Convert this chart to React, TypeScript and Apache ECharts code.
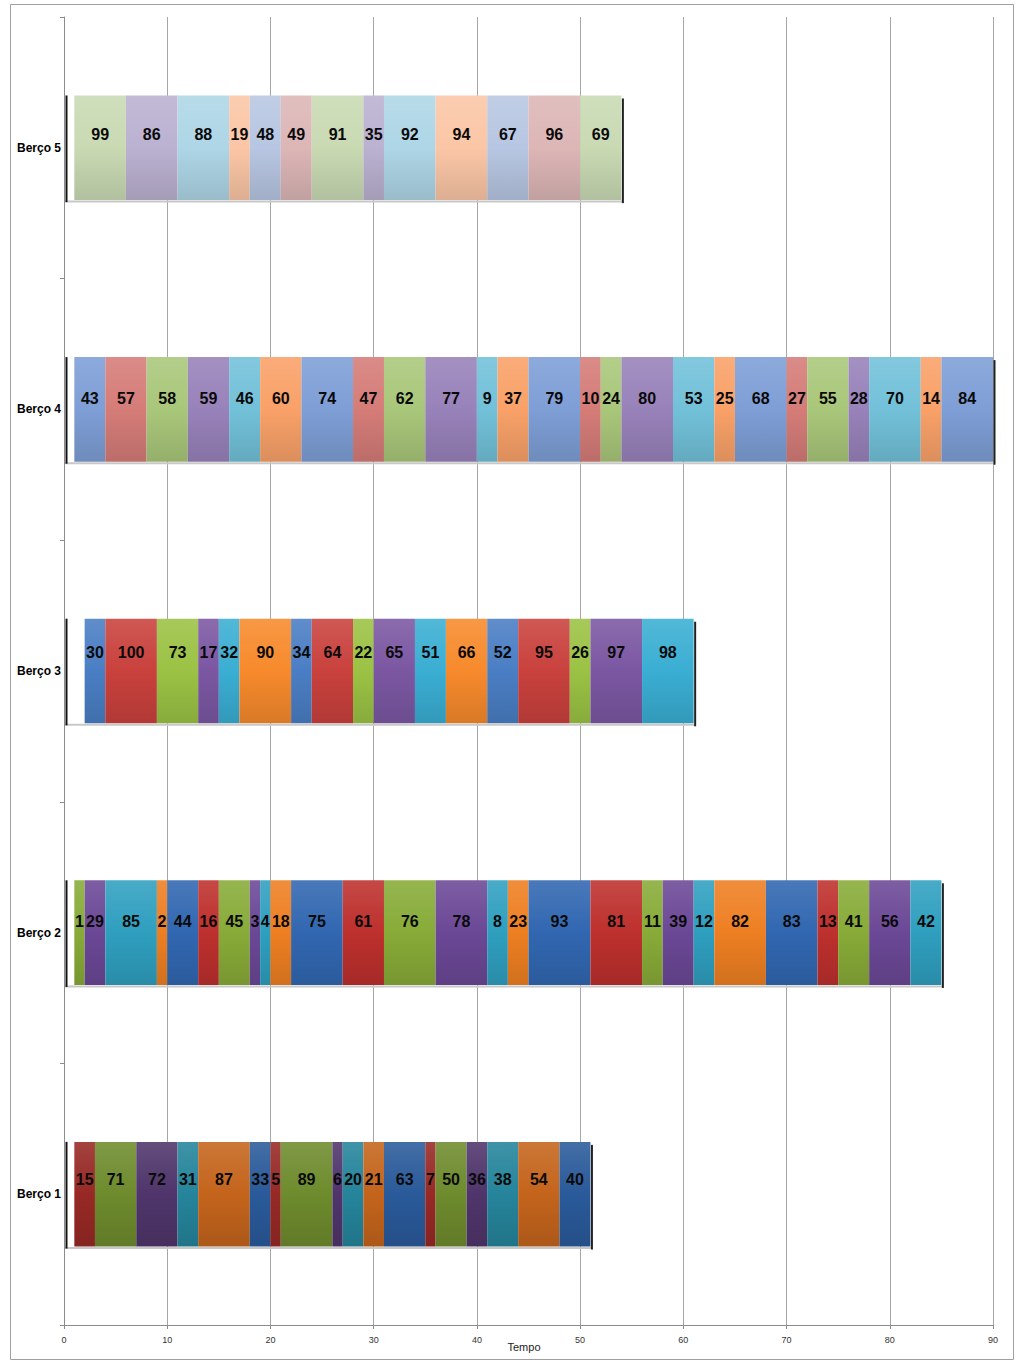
import React, { useEffect, useRef } from "react";
import * as echarts from "echarts";

const categories = ["Berço 1", "Berço 2", "Berço 3", "Berço 4", "Berço 5"];
const rowStarts = [1, 1, 2, 1, 1];
const xTicks = [0, 10, 20, 30, 40, 50, 60, 70, 80, 90];
const xAxisTitle = "Tempo";

const berco1Jobs = [15, 71, 72, 31, 87, 33, 5, 89, 6, 20, 21, 63, 7, 50, 36, 38, 54, 40];
const berco1Durations = [2, 4, 4, 2, 5, 2, 1, 5, 1, 2, 2, 4, 1, 3, 2, 3, 4, 3];

const berco2Jobs = [1, 29, 85, 2, 44, 16, 45, 3, 4, 18, 75, 61, 76, 78, 8, 23, 93, 81, 11, 39, 12, 82, 83, 13, 41, 56, 42];
const berco2Durations = [1, 2, 5, 1, 3, 2, 3, 1, 1, 2, 5, 4, 5, 5, 2, 2, 6, 5, 2, 3, 2, 5, 5, 2, 3, 4, 3];

const berco3Jobs = [30, 100, 73, 17, 32, 90, 34, 64, 22, 65, 51, 66, 52, 95, 26, 97, 98];
const berco3Durations = [2, 5, 4, 2, 2, 5, 2, 4, 2, 4, 3, 4, 3, 5, 2, 5, 5];

const berco4Jobs = [43, 57, 58, 59, 46, 60, 74, 47, 62, 77, 9, 37, 79, 10, 24, 80, 53, 25, 68, 27, 55, 28, 70, 14, 84];
const berco4Durations = [3, 4, 4, 4, 3, 4, 5, 3, 4, 5, 2, 3, 5, 2, 2, 5, 4, 2, 5, 2, 4, 2, 5, 2, 5];

const berco5Jobs = [99, 86, 88, 19, 48, 49, 91, 35, 92, 94, 67, 96, 69];
const berco5Durations = [5, 5, 5, 2, 3, 3, 5, 2, 5, 5, 4, 5, 4];

// styles (order: blue, red, green, purple, aqua, orange)
const rowPalettes = [
  ["#2A5A9A", "#972925", "#6E8B2D", "#4F356B", "#25849B", "#C4641C"],
  ["#3167B1", "#BD302D", "#88AB38", "#6B4896", "#2F9FBF", "#EE7F22"],
  ["#4A7EC4", "#C9413D", "#9BC244", "#7B57A2", "#3AAED3", "#F78A2C"],
  ["#7E9ED6", "#D57C78", "#A9C77A", "#9882BA", "#72C1D9", "#F9A168"],
  ["#B7C6E2", "#DDB6B6", "#C9DAB3", "#BBB1D1", "#AED6E6", "#FBC6A6"],
];
const rowPaletteStart = [1, 2, 0, 0, 2];
const labelOffsets = [-15, -11, -19, -11, -13];

function mix(hex: string, target: number, t: number) {
  const n = parseInt(hex.slice(1), 16);
  const r = (n >> 16) & 255, g = (n >> 8) & 255, b = n & 255;
  const f = (c: number) => Math.round(c + (target - c) * t);
  return `rgb(${f(r)},${f(g)},${f(b)})`;
}

export default function App() {
  const ref = useRef<HTMLDivElement>(null);
  useEffect(() => {
    if (!ref.current) return;
    const chart = echarts.init(ref.current, undefined, { renderer: "svg" });
    const jobs = [berco1Jobs, berco2Jobs, berco3Jobs, berco4Jobs, berco5Jobs];
    const durs = [berco1Durations, berco2Durations, berco3Durations, berco4Durations, berco5Durations];
    const segs: any[] = [];
    const rows: any[] = [];
    jobs.forEach((list, r) => {
      let s = rowStarts[r];
      list.forEach((job, i) => {
        const e = s + durs[r][i];
        const pal = rowPalettes[r];
        const col = pal[(rowPaletteStart[r] + i) % 6];
        segs.push({ value: [r, s, e, job], col });
        s = e;
      });
      rows.push([r, 0, s]);
    });

    const BAR = 0.4;
    const option: any = {
      animation: false,
      grid: { left: 64, right: 31, top: 17, bottom: 40 },
      xAxis: {
        type: "value",
        min: 0,
        max: 90,
        interval: 10,
        axisLine: { show: true, lineStyle: { color: "#8C8C8C" } },
        axisTick: { show: true, length: 4, lineStyle: { color: "#8C8C8C" } },
        axisLabel: {
          fontSize: 9,
          color: "#333",
          margin: 10,
          fontFamily: "Liberation Sans Narrow, Liberation Sans, Arial",
          formatter: (v: number) => (xTicks.includes(v) ? String(v) : ""),
        },
        splitLine: { show: true, lineStyle: { color: "#A6A6A6", width: 1 } },
      },
      yAxis: {
        type: "category",
        data: categories,
        boundaryGap: true,
        axisLine: { show: true, lineStyle: { color: "#8C8C8C" } },
        axisTick: { show: true, length: 4, alignWithLabel: false, lineStyle: { color: "#8C8C8C" } },
        axisLabel: {
          fontSize: 12,
          fontWeight: "bold",
          color: "#000",
          margin: 3,
          fontFamily: "Liberation Sans, Arial",
        },
        splitLine: { show: false },
      },
      graphic: [
        {
          type: "rect",
          shape: { x: 10.5, y: 4.5, width: 1003, height: 1355 },
          style: { fill: "none", stroke: "#A0A0A0", lineWidth: 1 },
          silent: true,
          z: -10,
        },
        {
          type: "text",
          x: 524,
          y: 1347,
          style: {
            text: xAxisTitle,
            fill: "#222",
            font: "11px 'Liberation Sans Narrow', 'Liberation Sans', Arial",
            align: "center",
            verticalAlign: "middle",
          },
        },
      ],
      series: [
        {
          type: "custom",
          name: "shadow",
          data: rows,
          z: 1,
          renderItem: (params: any, api: any) => {
            const r = api.value(0);
            const p0 = api.coord([api.value(1), r]);
            const p1 = api.coord([api.value(2), r]);
            const h = api.size([0, 1])[1] * BAR;
            const top = p0[1] - h / 2;
            const bot = p0[1] + h / 2;
            return {
              type: "group",
              children: [
                {
                  type: "line",
                  shape: { x1: p0[0] + 1, y1: bot + 1.5, x2: p1[0] + 1, y2: bot + 1.5 },
                  style: { stroke: "#C8C8C8", lineWidth: 2 },
                },
                {
                  type: "line",
                  shape: { x1: p0[0] + 2.5, y1: top, x2: p0[0] + 2.5, y2: bot + 2 },
                  style: { stroke: "#111", lineWidth: 2 },
                },
                {
                  type: "line",
                  shape: { x1: p1[0] + 1.5, y1: top + 3, x2: p1[0] + 1.5, y2: bot + 3 },
                  style: { stroke: "#222", lineWidth: 2 },
                },
              ],
            };
          },
        },
        {
          type: "custom",
          name: "jobs",
          data: segs,
          z: 2,
          renderItem: (params: any, api: any) => {
            const r = api.value(0);
            const p0 = api.coord([api.value(1), r]);
            const p1 = api.coord([api.value(2), r]);
            const h = api.size([0, 1])[1] * BAR;
            const col = segs[params.dataIndex].col;
            return {
              type: "group",
              children: [
                {
                  type: "rect",
                  shape: { x: p0[0], y: p0[1] - h / 2, width: p1[0] - p0[0], height: h },
                  style: {
                    fill: new echarts.graphic.LinearGradient(0, 0, 0, 1, [
                      { offset: 0, color: mix(col, 255, 0.12) },
                      { offset: 0.5, color: col },
                      { offset: 1, color: mix(col, 0, 0.12) },
                    ]),
                  },
                },
                {
                  type: "text",
                  x: (p0[0] + p1[0]) / 2,
                  y: p0[1] + labelOffsets[r],
                  style: {
                    text: String(api.value(3)),
                    fill: "#0A0A0A",
                    font: "bold 16px 'Liberation Sans', Arial, sans-serif",
                    align: "center",
                    verticalAlign: "middle",
                  },
                },
              ],
            };
          },
        },
      ],
    };
    chart.setOption(option);
    return () => chart.dispose();
  }, []);
  return (
    <div
      ref={ref}
      style={{ position: "fixed", left: 0, top: 0, width: 1024, height: 1365, background: "#fff" }}
    />
  );
}
